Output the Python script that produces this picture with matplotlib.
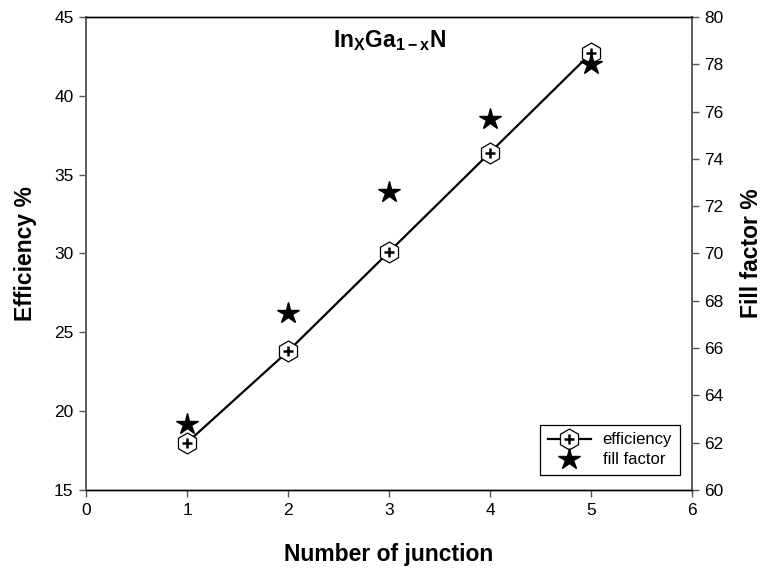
import matplotlib
matplotlib.use('Agg')
import matplotlib.pyplot as plt
from matplotlib.legend_handler import HandlerTuple

plt.rcParams['font.family'] = ['Liberation Sans', 'DejaVu Sans']
plt.rcParams['mathtext.fontset'] = 'custom'
plt.rcParams['mathtext.rm'] = 'Liberation Sans:bold'
plt.rcParams['mathtext.it'] = 'Liberation Sans:bold'
plt.rcParams['mathtext.bf'] = 'Liberation Sans:bold'

junctions = [1, 2, 3, 4, 5]
efficiency = [18.0, 23.8, 30.1, 36.4, 42.7]
fill_factor = [62.8, 67.5, 72.6, 75.7, 78.0]

fig = plt.figure(figsize=(7.66, 5.76), dpi=100)
ax = fig.add_axes([0.1123, 0.1493, 0.7911, 0.8212])
ax2 = ax.twinx()

line, = ax.plot(junctions, efficiency, color='black', lw=1.6, marker='h',
                ms=15, mfc='white', mec='black', mew=0.9, zorder=3)
plus, = ax.plot(junctions, efficiency, ls='none', marker='+', ms=7,
                mew=1.8, color='black', zorder=4)
stars, = ax2.plot(junctions, fill_factor, ls='none', marker='*', ms=16,
                  color='black')

ax.set_xlim(0, 6)
ax.set_ylim(15, 45)
ax2.set_ylim(60, 80)
ax.set_xticks(range(0, 7))
ax.set_yticks(range(15, 46, 5))
ax2.set_yticks(range(60, 81, 2))

for a in (ax, ax2):
    a.tick_params(direction='out', length=5, width=1, labelsize=12.5,
                  color='#555555', pad=4)
    for side in ('left', 'right'):
        a.spines[side].set_color('#606060')
        a.spines[side].set_linewidth(1.3)
    for side in ('top', 'bottom'):
        a.spines[side].set_color('black')
        a.spines[side].set_linewidth(1.0)

ax.set_xlabel('Number of junction', fontsize=16.5, fontweight='bold', labelpad=18)
ax.set_ylabel('Efficiency %', fontsize=16.5, fontweight='bold', labelpad=12)
ax2.set_ylabel('Fill factor %', fontsize=16.5, fontweight='bold', labelpad=12)

ax.text(3.0, 43.5, r'$\mathrm{In_{X}Ga_{1-x}N}$', ha='center', va='center',
        fontsize=16.5)

leg = ax2.legend([(line, plus), stars], ['efficiency', 'fill factor'],
                 handler_map={tuple: HandlerTuple(ndivide=1)},
                 loc='lower right', bbox_to_anchor=(0.985, 0.025),
                 fontsize=12, fancybox=False, edgecolor='black',
                 framealpha=1, handlelength=2.6, borderpad=0.45,
                 labelspacing=0.3, handletextpad=0.7, borderaxespad=0.2)
leg.get_frame().set_linewidth(0.9)

fig.savefig('out.png', dpi=100)
